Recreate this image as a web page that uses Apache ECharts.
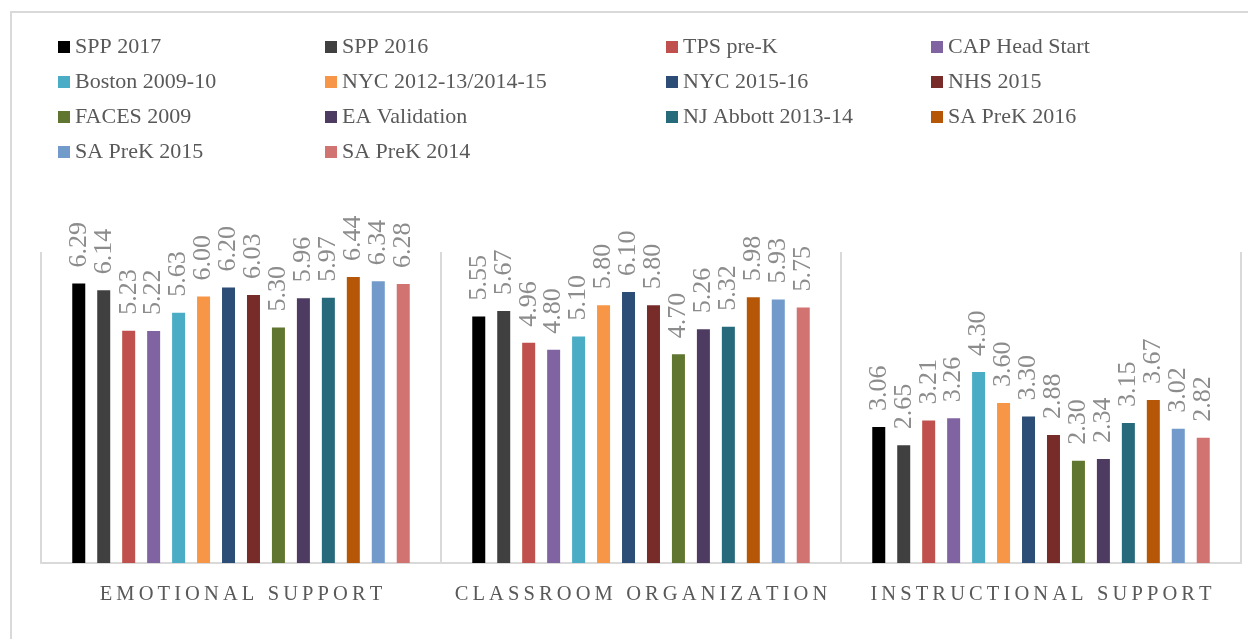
<!DOCTYPE html>
<html>
<head>
<meta charset="utf-8">
<title>CLASS scores</title>
<script src="https://cdn.jsdelivr.net/npm/echarts@6/dist/echarts.min.js"></script>
<style>
  html, body { margin: 0; padding: 0; background: #fff; }
  #chart { width: 1248px; height: 639px; }
</style>
</head>
<body>
<div id="chart"></div>
<script>
// domains on the x axis
const categories = ["EMOTIONAL SUPPORT", "CLASSROOM ORGANIZATION", "INSTRUCTIONAL SUPPORT"];

// programs / studies (one bar each per domain)
const programs = [
  "SPP 2017", "SPP 2016", "TPS pre-K", "CAP Head Start",
  "Boston 2009-10", "NYC 2012-13/2014-15", "NYC 2015-16", "NHS 2015",
  "FACES 2009", "EA Validation", "NJ Abbott 2013-14", "SA PreK 2016",
  "SA PreK 2015", "SA PreK 2014"
];

// scores per domain, same order as programs
const emotionalSupport = [6.29, 6.14, 5.23, 5.22, 5.63, 6.00, 6.20, 6.03, 5.30, 5.96, 5.97, 6.44, 6.34, 6.28];
const classroomOrganization = [5.55, 5.67, 4.96, 4.80, 5.10, 5.80, 6.10, 5.80, 4.70, 5.26, 5.32, 5.98, 5.93, 5.75];
const instructionalSupport = [3.06, 2.65, 3.21, 3.26, 4.30, 3.60, 3.30, 2.88, 2.30, 2.34, 3.15, 3.67, 3.02, 2.82];

const palette = [
  "#000000", "#404040", "#c0504d", "#8064a2",
  "#4bacc6", "#f79646", "#2c4d75", "#772c2a",
  "#5f7530", "#4d3b62", "#276a7c", "#b65708",
  "#729aca", "#d07371"
];

const FONT = "Liberation Serif";

const chart = echarts.init(document.getElementById("chart"));

const series = programs.map((name, i) => ({
  name: name,
  type: "bar",
  barWidth: 13,
  barGap: "92%",
  itemStyle: { color: palette[i] },
  label: {
    show: true,
    position: "top",
    rotate: 90,
    align: "left",
    verticalAlign: "middle",
    distance: 16,
    color: "#8c8c8c",
    fontFamily: FONT,
    fontSize: 26,
    formatter: (p) => p.value.toFixed(2)
  },
  data: [emotionalSupport[i], classroomOrganization[i], instructionalSupport[i]]
}));

// legend is laid out in 4 columns, filled row by row
const colLefts = [53, 320, 661, 926];
const legends = colLefts.map((left, c) => ({
  orient: "vertical",
  left: left,
  top: 31,
  itemWidth: 12,
  itemHeight: 12,
  itemGap: 13,
  icon: "rect",
  textStyle: { color: "#595959", fontFamily: FONT, fontSize: 22, lineHeight: 22 },
  data: programs.filter((_, i) => i % 4 === c)
}));

chart.setOption({
  animation: false,
  color: palette,
  graphic: [{
    type: "rect",
    shape: { x: 11, y: 12, width: 1400, height: 800 },
    style: { fill: "none", stroke: "#d9d9d9", lineWidth: 2 },
    silent: true
  }],
  legend: legends,
  grid: { left: 41, right: 7, top: 252, bottom: 76 },
  xAxis: {
    type: "category",
    data: categories,
    axisLine: { lineStyle: { color: "#d9d9d9", width: 2 } },
    axisTick: { show: false },
    splitLine: { show: true, lineStyle: { color: "#d9d9d9", width: 2 } },
    axisLabel: {
      interval: 0,
      hideOverlap: false,
      color: "#595959",
      fontFamily: FONT,
      fontSize: 20.5,
      margin: 21,
      formatter: (v) => v.split("").join("\u2009")
    }
  },
  yAxis: {
    type: "value",
    min: 0,
    max: 7,
    show: false
  },
  series: series
});
</script>
</body>
</html>
